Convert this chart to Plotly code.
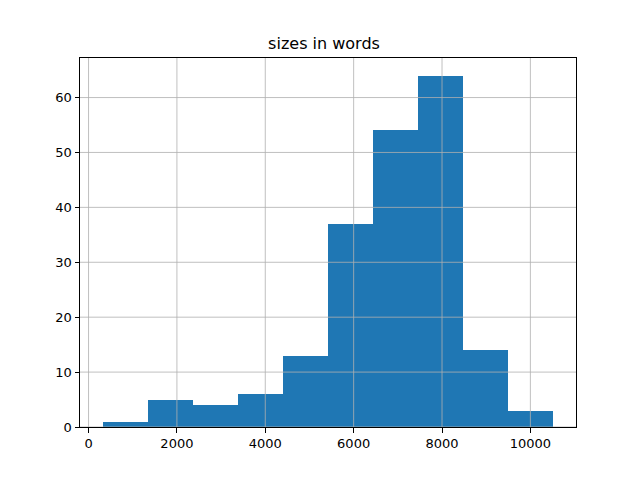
import plotly.graph_objects as go

bin_edges = [317, 1337, 2358, 3378, 4399, 5419, 6440, 7460, 8481, 9501, 10522]
counts = [1, 5, 4, 6, 13, 37, 54, 64, 14, 3]
x_ticks = [0, 2000, 4000, 6000, 8000, 10000]
y_ticks = [0, 10, 20, 30, 40, 50, 60]

centers = [(a + b) / 2 for a, b in zip(bin_edges[:-1], bin_edges[1:])]
widths = [b - a for a, b in zip(bin_edges[:-1], bin_edges[1:])]

span = bin_edges[-1] - bin_edges[0]
xr = [bin_edges[0] - 0.05 * span, bin_edges[-1] + 0.05 * span]
yr = [0, max(counts) * 1.05]

fig = go.Figure(go.Bar(x=centers, y=counts, width=widths,
                       marker=dict(color="#1f77b4", line=dict(width=0))))

axis_common = dict(showgrid=False,
                   showline=True, linecolor="black", linewidth=1, mirror=True,
                   ticks="outside", ticklen=4.5, tickcolor="black", tickwidth=1,
                   zeroline=False, layer="above traces",
                   tickfont=dict(family="DejaVu Sans", size=13, color="black"))

grid = dict(color="#b0b0b0", width=0.8)
shapes = []
for v in x_ticks:
    shapes.append(dict(type="line", xref="x", yref="paper", x0=v, x1=v, y0=0, y1=1,
                       line=grid, layer="above"))
for v in y_ticks:
    shapes.append(dict(type="line", xref="paper", yref="y", x0=0, x1=1, y0=v, y1=v,
                       line=grid, layer="above"))

# the page body has an 8px margin; compensate
W, H = 632, 472
fig.update_layout(
    width=W, height=H,
    margin=dict(l=72, r=64, t=50, b=53),
    paper_bgcolor="white", plot_bgcolor="white",
    title=dict(text="sizes in words", x=0.5, xanchor="center",
               y=1 - 35 / H, yanchor="middle",
               font=dict(family="DejaVu Sans", size=16, color="black")),
    xaxis=dict(range=xr, tickvals=x_ticks, ticktext=[str(v) for v in x_ticks], **axis_common),
    yaxis=dict(range=yr, tickvals=y_ticks, ticktext=[str(v) for v in y_ticks], **axis_common),
    shapes=shapes,
    bargap=0, showlegend=False,
)

fig.write_html("out.html")
